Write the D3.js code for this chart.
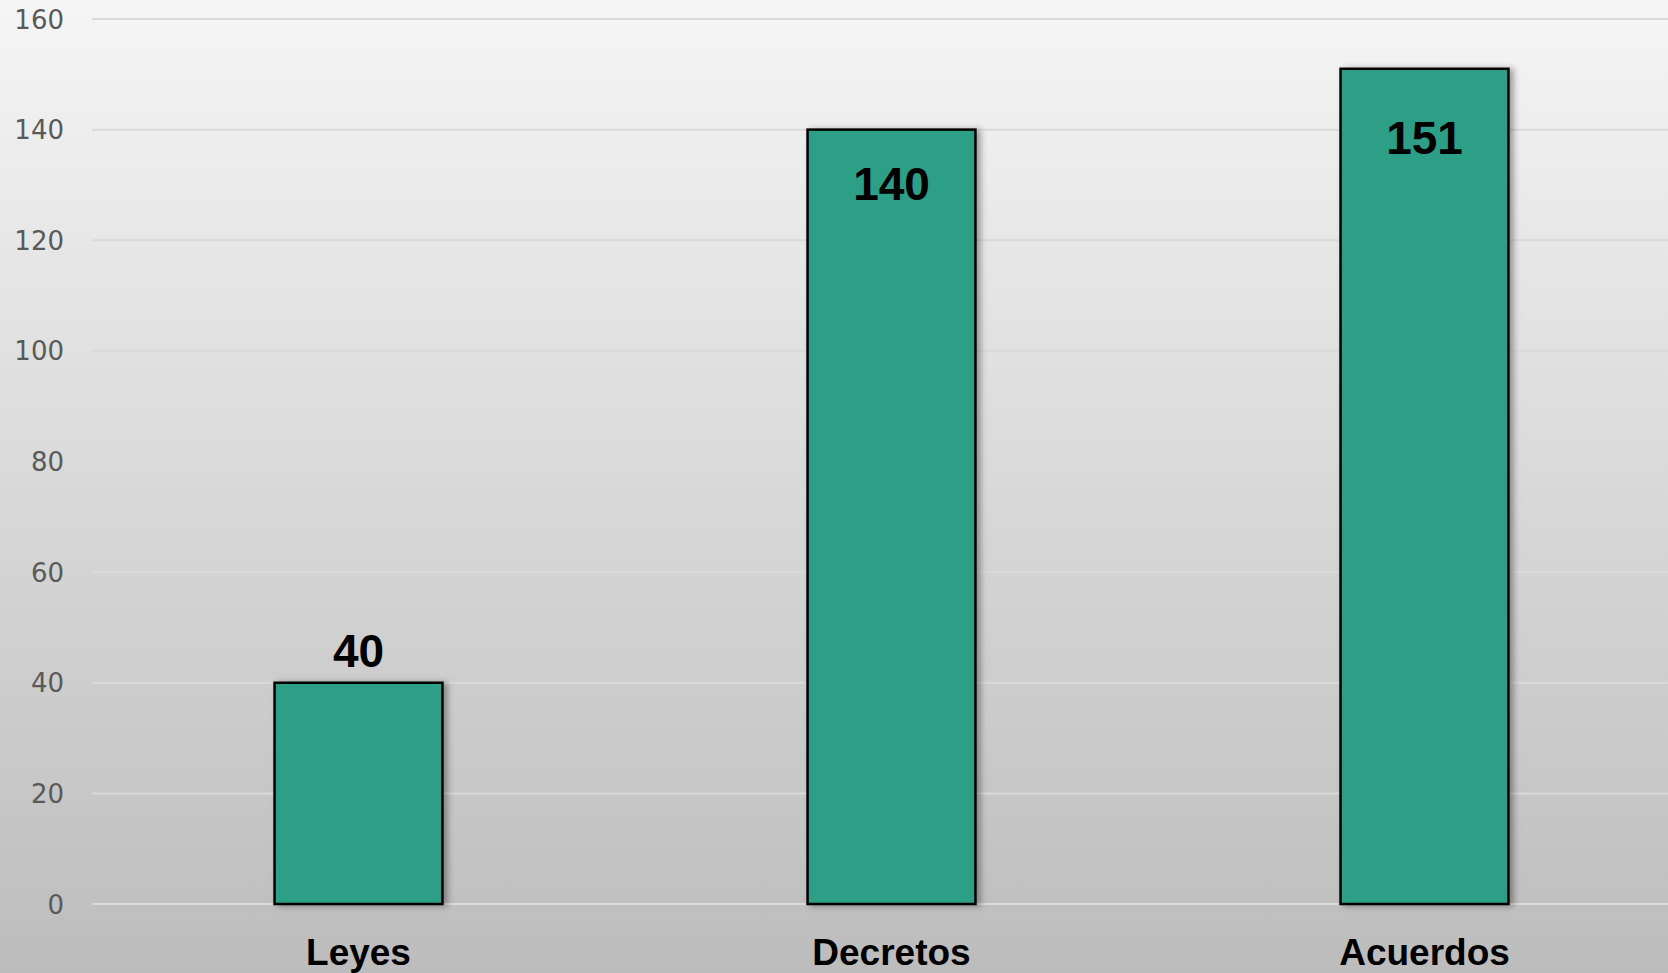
<!DOCTYPE html>
<html>
<head>
<meta charset="utf-8">
<script src="https://cdn.jsdelivr.net/npm/d3@7"></script>
<style>
  html, body { margin: 0; padding: 0; overflow: hidden; }
  svg { display: block; }
</style>
</head>
<body>
<div id="chart"></div>
<script>
const categories = ["Leyes", "Decretos", "Acuerdos"];
const values = [40, 140, 151];
const yTicks = [0, 20, 40, 60, 80, 100, 120, 140, 160];

const W = 1668, H = 973;
const margin = { top: 19, right: -23, bottom: 69, left: 92 };

const svg = d3.select("#chart").append("svg")
  .attr("width", W).attr("height", H);

const defs = svg.append("defs");
const grad = defs.append("linearGradient").attr("id", "bg")
  .attr("x1", 0).attr("y1", 0).attr("x2", 0).attr("y2", 1);
grad.append("stop").attr("offset", "0%").attr("stop-color", "#f5f5f5");
grad.append("stop").attr("offset", "100%").attr("stop-color", "#bcbcbc");

const shadow = defs.append("filter").attr("id", "shadow")
  .attr("x", "-10%").attr("y", "-10%").attr("width", "130%").attr("height", "120%");
shadow.append("feDropShadow")
  .attr("dx", 4).attr("dy", 1).attr("stdDeviation", 3)
  .attr("flood-color", "#000").attr("flood-opacity", 0.35);

svg.append("rect").attr("width", W).attr("height", H).attr("fill", "url(#bg)");

const x = d3.scaleBand()
  .domain(categories)
  .range([margin.left, W - margin.right])
  .paddingInner(0.685).paddingOuter(0.3425);

const y = d3.scaleLinear()
  .domain([0, 160])
  .range([H - margin.bottom, margin.top]);

// gridlines
svg.append("g").selectAll("line").data(yTicks).join("line")
  .attr("x1", margin.left).attr("x2", W)
  .attr("y1", d => y(d)).attr("y2", d => y(d))
  .attr("stroke", "#dadada").attr("stroke-width", 2);

// y axis labels
const yAxis = svg.append("g")
  .attr("transform", `translate(${margin.left - 28},0)`)
  .call(d3.axisLeft(y).tickValues(yTicks).tickSize(0).tickPadding(0));
yAxis.select(".domain").remove();
yAxis.selectAll("text")
  .attr("fill", "#595959")
  .style("font-family", "'DejaVu Sans', sans-serif")
  .style("font-size", "26px")
  .attr("dy", "0.35em");

// bars
svg.append("g").selectAll("rect").data(values).join("rect")
  .attr("x", (d, i) => x(categories[i]))
  .attr("width", x.bandwidth())
  .attr("y", d => y(d))
  .attr("height", d => y(0) - y(d))
  .attr("fill", "#2e9f87")
  .attr("stroke", "#000")
  .attr("stroke-width", 2.5)
  .attr("filter", "url(#shadow)");

// value labels: short bar gets its label above, tall bars inside the top
svg.append("g").selectAll("text").data(values).join("text")
  .attr("x", (d, i) => x(categories[i]) + x.bandwidth() / 2)
  .attr("y", (d, i) => d < 100 ? y(d) - 16 : y(d) + (i === 1 ? 70 : 85))
  .attr("text-anchor", "middle")
  .attr("fill", "#000")
  .style("font-family", "'Liberation Sans', Arial, sans-serif")
  .style("font-weight", "bold")
  .style("font-size", "46px")
  .text(d => d);

// category labels
svg.append("g").selectAll("text").data(categories).join("text")
  .attr("x", d => x(d) + x.bandwidth() / 2)
  .attr("y", 965)
  .attr("text-anchor", "middle")
  .attr("fill", "#000")
  .style("font-family", "'Liberation Sans', Arial, sans-serif")
  .style("font-weight", "bold")
  .style("font-size", "37px")
  .text(d => d);
</script>
</body>
</html>
